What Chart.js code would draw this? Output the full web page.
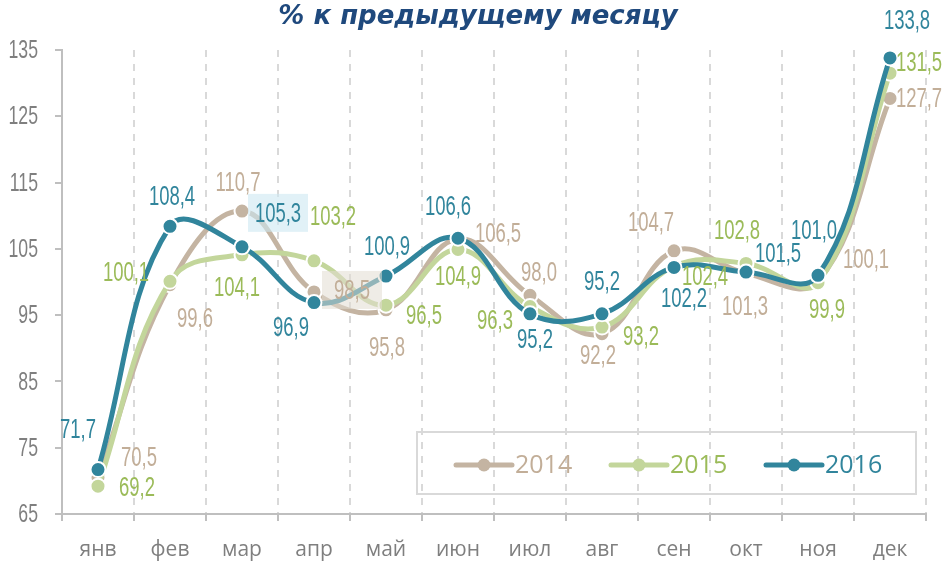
<!DOCTYPE html>
<html>
<head>
<meta charset="utf-8">
<script src="https://cdn.jsdelivr.net/npm/chart.js@4.4.0/dist/chart.umd.min.js"></script>
<style>
  html, body { margin: 0; padding: 0; background: #fff; }
  #wrap { width: 947px; height: 561px; }
</style>
</head>
<body>
<div id="wrap"><canvas id="chart" width="947" height="561"></canvas></div>
<script>
// Data
const months = ["янв", "фев", "мар", "апр", "май", "июн", "июл", "авг", "сен", "окт", "ноя", "дек"];
const yTicks = [65, 75, 85, 95, 105, 115, 125, 135];
const values2014 = [70.5, 99.6, 110.7, 98.5, 95.8, 106.5, 98.0, 92.2, 104.7, 101.3, 100.1, 127.7];
const values2015 = [69.2, 100.1, 104.1, 103.2, 96.5, 104.9, 96.3, 93.2, 102.4, 102.8, 99.9, 131.5];
const values2016 = [71.7, 108.4, 105.3, 96.9, 100.9, 106.6, 95.2, 95.2, 102.2, 101.5, 101.0, 133.8];
const titleText = "% к предыдущему месяцу";

// Label placement relative to each point (style only)
const offs2014 = [[41, -20], [25, 34], [-4, -29], [38, -2], [1, 37], [40, -6], [9, -23], [-4, 22], [-23, -29], [-1, 33], [48, -22], [29, 0]];
const offs2015 = [[39, 1], [-44, -9], [-5, 32], [19, -45], [38, 10], [0, 27], [-35, 14], [39, 9], [31, 10], [-9, -33], [9, 27], [29, -11]];
const offs2016 = [[-20, -40], [2, -30], [36, -34], [-23, 25], [1, -30], [-10, -32], [5, 25], [0, -33], [10, 31], [32, -19], [-4, -45], [17, -38]];

const colors = {
    c2014: "#c4b4a2", t2014: "#c2ae98",
    c2015: "#c3d69b", t2015: "#9bbb59",
    c2016: "#31859c", t2016: "#31859c"
};

const narrowFont = '"Liberation Sans", "DejaVu Sans", sans-serif';

// draw horizontally squeezed text (stand-in for a condensed face)
function squeezed(ctx, txt, x, y, size, sx, color, align) {
    ctx.save();
    ctx.translate(x, y);
    ctx.scale(sx, 1);
    ctx.font = size + "px " + narrowFont;
    ctx.fillStyle = color;
    ctx.textAlign = align;
    ctx.textBaseline = "middle";
    ctx.fillText(txt, 0, 1);
    ctx.restore();
}

// Value labels drawn over the lines
const valueLabels = {
    id: "valueLabels",
    afterDatasetsDraw(chart) {
        const ctx = chart.ctx;
        chart.data.datasets.forEach((ds, di) => {
            const meta = chart.getDatasetMeta(di);
            meta.data.forEach((pt, i) => {
                const [dx, dy] = ds.labelOffsets[i];
                const txt = ds.data[i].toFixed(1).replace(".", ",");
                const x = pt.x + dx, y = pt.y + dy;
                if (ds.labelBg && ds.labelBg[i]) {
                    ctx.save();
                    ctx.fillStyle = ds.labelBg[i];
                    ctx.fillRect(x - 30, y - 19, 60, 38);
                    ctx.restore();
                }
                squeezed(ctx, txt, x, y, 28, 0.66, ds.labelColor, "center");
            });
        });
        // y tick labels
        const ys = chart.scales.y;
        yTicks.forEach(v => {
            squeezed(ctx, String(v), 38, ys.getPixelForValue(v), 26, 0.68, "#7f7f7f", "right");
        });
    }
};

// Title and boxed legend
const titleAndLegend = {
    id: "titleAndLegend",
    afterDraw(chart) {
        const ctx = chart.ctx;
        ctx.save();
        ctx.font = 'italic bold 26px "DejaVu Sans", sans-serif';
        ctx.fillStyle = "#1f497d";
        ctx.textAlign = "center";
        ctx.textBaseline = "middle";
        ctx.fillText(titleText, 478, 17);

        ctx.strokeStyle = "#d9d9d9";
        ctx.lineWidth = 2;
        ctx.strokeRect(417, 432, 499, 62);

        const cy = 465;
        chart.data.datasets.forEach((ds, i) => {
            const x0 = 456 + i * 155;
            ctx.strokeStyle = ds.borderColor;
            ctx.lineWidth = 5;
            ctx.lineCap = "round";
            ctx.beginPath();
            ctx.moveTo(x0, cy);
            ctx.lineTo(x0 + 56, cy);
            ctx.stroke();
            ctx.fillStyle = ds.borderColor;
            ctx.beginPath();
            ctx.arc(x0 + 28, cy, 6.5, 0, Math.PI * 2);
            ctx.fill();
            ctx.font = '25px "Open Sans", sans-serif';
            ctx.fillStyle = ds.labelColor;
            ctx.textAlign = "left";
            ctx.fillText(ds.label, x0 + 59, cy + 1);
        });
        ctx.restore();
    }
};

function series(label, data, color, textColor, offsets, order, bg) {
    return {
        label: label,
        data: data,
        borderColor: color,
        backgroundColor: color,
        borderWidth: 5,
        tension: 0.4,
        fill: false,
        pointRadius: 7.5,
        pointBackgroundColor: color,
        pointBorderColor: "#ffffff",
        pointBorderWidth: 2,
        order: order,
        labelColor: textColor,
        labelOffsets: offsets,
        labelBg: bg
    };
}

const bg2014 = []; bg2014[3] = "rgba(225,220,210,0.55)";
const bg2016 = []; bg2016[2] = "rgba(205,232,242,0.6)";

new Chart(document.getElementById("chart"), {
    type: "line",
    data: {
        labels: months,
        datasets: [
            series("2014", values2014, colors.c2014, colors.t2014, offs2014, 3, bg2014),
            series("2015", values2015, colors.c2015, colors.t2015, offs2015, 2, null),
            series("2016", values2016, colors.c2016, colors.t2016, offs2016, 1, bg2016)
        ]
    },
    options: {
        responsive: false,
        animation: false,
        layout: { padding: { top: 50, right: 21, left: 0, bottom: 0 } },
        plugins: { legend: { display: false }, tooltip: { enabled: false }, title: { display: false } },
        scales: {
            x: {
                offset: true,
                grid: {
                    offset: true,
                    color: "#d9d9d9",
                    lineWidth: 2,
                    tickLength: 7,
                    tickColor: "#bfbfbf"
                },
                border: { color: "#bfbfbf", width: 2, dash: [7, 7] },
                ticks: {
                    color: "#7f7f7f",
                    font: { family: '"Open Sans", sans-serif', size: 21 },
                    padding: 16
                },
                afterFit(scale) { scale.height = 47; }
            },
            y: {
                min: 65,
                max: 135,
                afterBuildTicks(scale) { scale.ticks = yTicks.map(v => ({ value: v })); },
                grid: {
                    drawOnChartArea: false,
                    drawTicks: true,
                    tickLength: 7,
                    color: "#bfbfbf",
                    lineWidth: 2
                },
                border: { color: "#bfbfbf", width: 2 },
                ticks: { display: false },
                afterFit(scale) { scale.width = 62; }
            }
        }
    },
    plugins: [valueLabels, titleAndLegend]
});
</script>
</body>
</html>
